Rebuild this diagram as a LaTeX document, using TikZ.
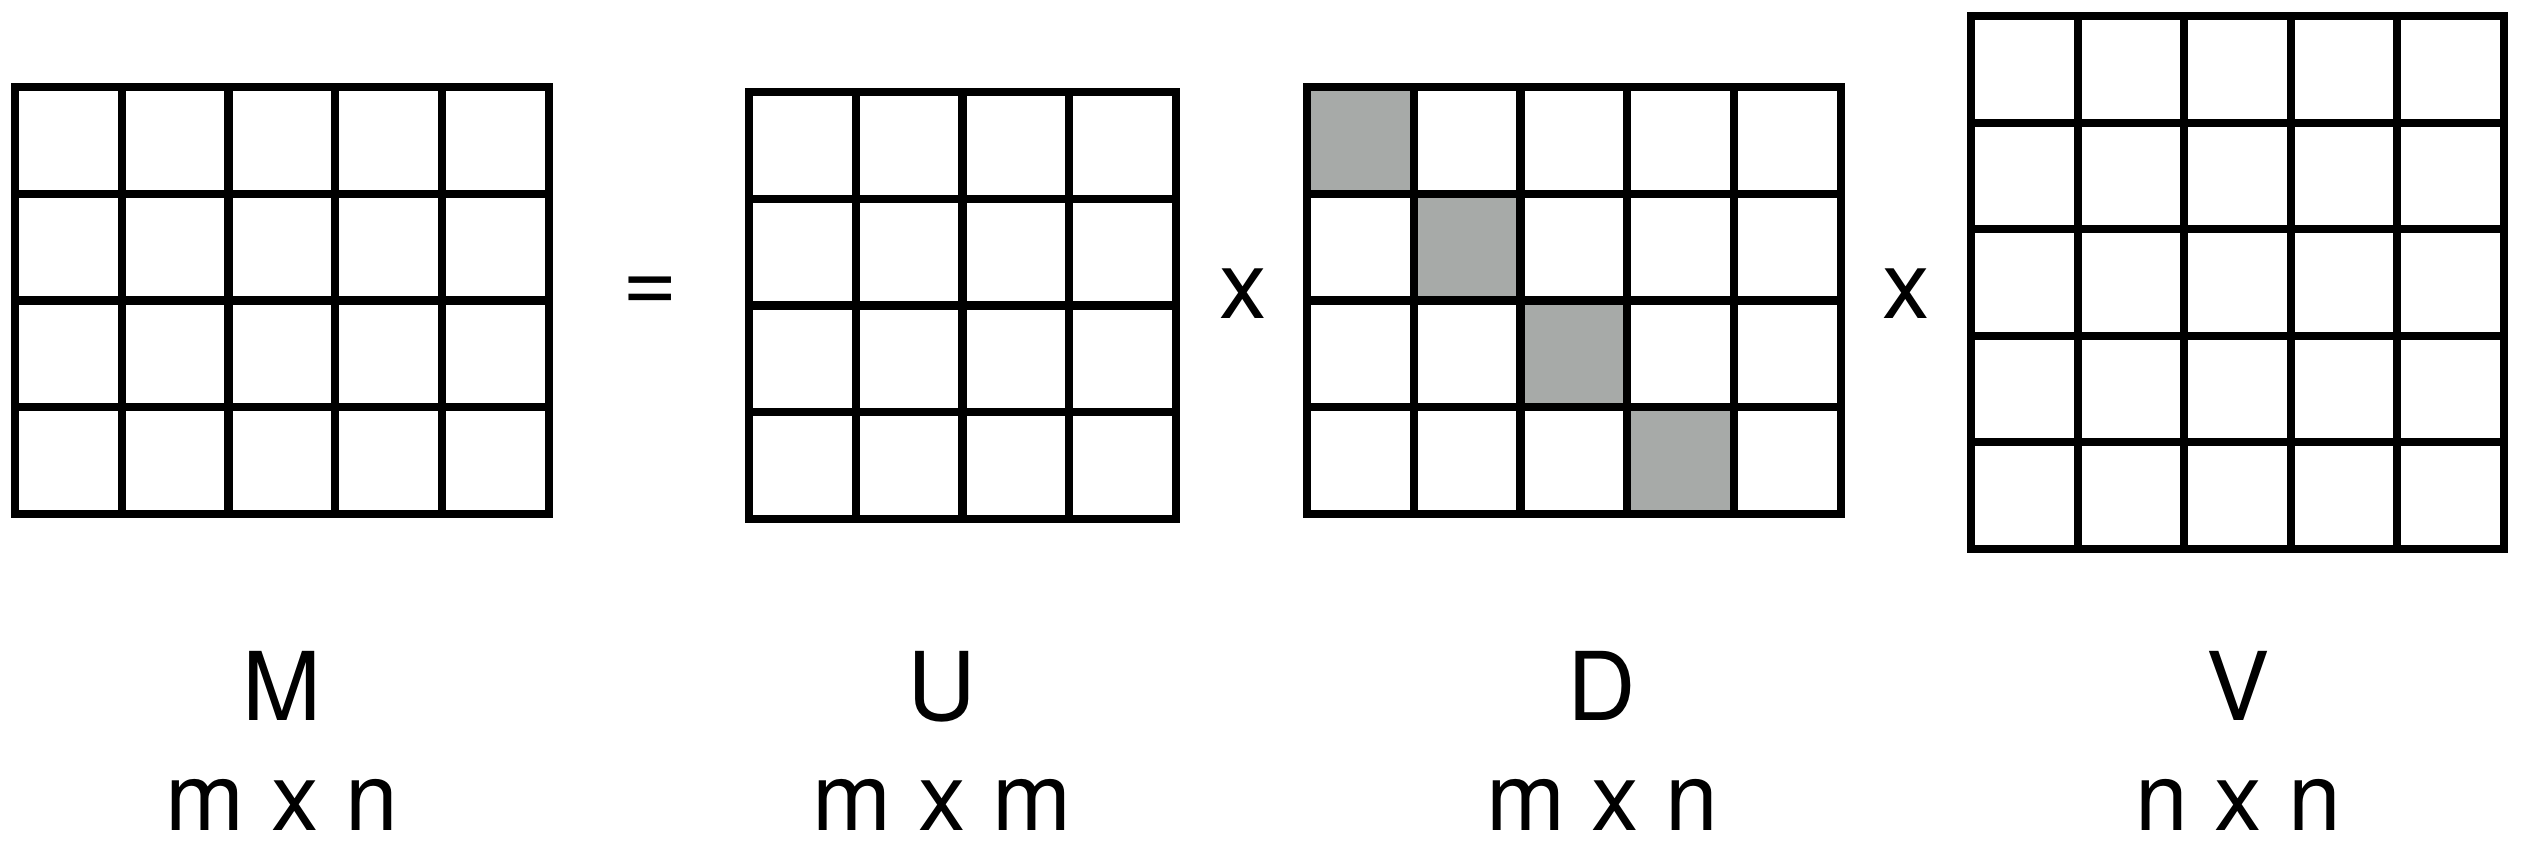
\documentclass[tikz,border=0pt]{standalone}
\usepackage{fontspec}
\setmainfont{TeX Gyre Heros}
\definecolor{cellgray}{RGB}{167,170,168}

\begin{document}
\begin{tikzpicture}[
          gridline/.style={
              draw=black,
              line width=2.3pt,
              line cap=rect
            },
          diagcell/.style={fill=cellgray},
          opsym/.style={font=\fontsize{27}{32}\selectfont, inner sep=0pt},
          matname/.style={font=\fontsize{27}{32}\selectfont, anchor=base, inner sep=0pt},
          matsize/.style={font=\fontsize{27}{32}\selectfont, anchor=base, inner sep=0pt}
        ]
        \useasboundingbox (0,0) rectangle (25.26,8.42);

        % M = U x D x V
        \begin{scope}[shift={(0.15,3.28)}, scale=1.0675]
          \draw[gridline] (0,0) grid (5,4);
        \end{scope}
        \node[opsym] (eq) at (6.50,5.47) {=};

        \begin{scope}[shift={(7.49,3.23)}, scale=1.0675]
          \draw[gridline] (0,0) grid (4,4);
        \end{scope}
        \node[opsym] (times1) at (12.43,5.48) {x};

        \begin{scope}[shift={(13.07,3.28)}, scale=1.0675]
          \foreach \i in {0,...,3}
            \fill[diagcell] (\i,3-\i) rectangle (\i+1,4-\i);
          \draw[gridline] (0,0) grid (5,4);
        \end{scope}
        \node[opsym] (times2) at (19.06,5.48) {x};

        \begin{scope}[shift={(19.71,2.93)}, scale=1.066]
          \draw[gridline] (0,0) grid (5,5);
        \end{scope}

        \node[matname] (m_name) at (2.82,1.22) {M};
        \node[matsize] (m_size) at (2.82,0.12) {m x n};
        \node[matname] (u_name) at (9.42,1.22) {U};
        \node[matsize] (u_size) at (9.42,0.12) {m x m};
        \node[matname] (d_name) at (16.02,1.22) {D};
        \node[matsize] (d_size) at (16.02,0.12) {m x n};
        \node[matname] (v_name) at (22.38,1.22) {V};
        \node[matsize] (v_size) at (22.38,0.12) {n x n};
      \end{tikzpicture}
\end{document}
